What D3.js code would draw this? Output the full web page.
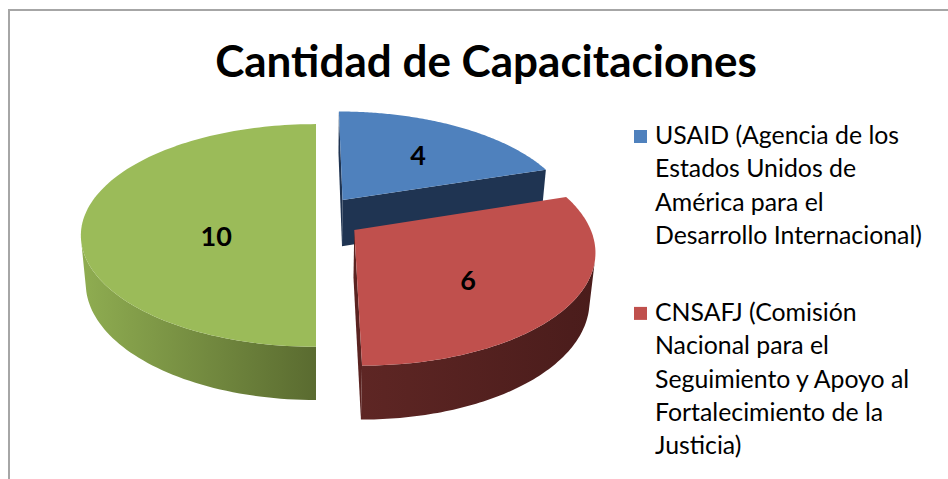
<!DOCTYPE html>
<html><head><meta charset="utf-8">
<script src="https://cdn.jsdelivr.net/npm/d3@7"></script>
<style>body{margin:0;background:#fff}</style>
</head><body><svg id="chart" width="948" height="479"></svg>
<script>
// ---- data ----
const title = "Cantidad de Capacitaciones";
const categories = ["USAID", "CNSAFJ", "Otra"];
const values = [4, 6, 10];
const colors = ["#4F81BD", "#C0504D", "#9BBB59"];
const sideColors = [["#26405f", "#1f3350"], ["#5e2624", "#4a1c1b"], ["#8fad51", "#5a6b30"]];
const cutColors = ["#1f3452", "#5a2321", "#6b8139"];
const explode = [0.2, 0.2, 0];
// legend (third entry is cut off in the reference)
const legendLabels = [
  ["USAID (Agencia de los", "Estados Unidos de", "América para el", "Desarrollo Internacional)"],
  ["CNSAFJ (Comisión", "Nacional para el", "Seguimiento y Apoyo al", "Fortalecimiento de la", "Justicia)"]
];

const svg = d3.select("#chart");
// border
svg.append("path").attr("d", "M9,479V10H948").attr("fill", "none")
  .attr("stroke", "#a6a6a6").attr("stroke-width", 2);

// title
const t = svg.append("text").attr("x", 486).attr("y", 77).attr("text-anchor", "middle")
  .attr("font-family", "Lato, 'Open Sans', sans-serif").attr("font-weight", "bold")
  .attr("font-size", 48).attr("fill", "#000").text(title);
const tw = t.node().getComputedTextLength();
t.attr("font-size", 48 * 542 / tw);

// ---- 3D projection ----
const P = {cx: 316, cy: 217, f: 1236, D: 5.33, s: 0.467, c: 0.884, h: 0.235};
const cam = {X: 0, Z: -P.D * P.c};
function proj(X, Y, Z) {
  const depth = P.D + Z * P.c - Y * P.s;
  const v = Y * P.c + Z * P.s;
  return [P.cx + P.f * X / depth, P.cy - P.f * v / depth];
}

const arcs = d3.pie().sort(null).value(d => d)(values);
const defs = svg.append("defs");
const slices = arcs.map((a, i) => {
  const mid = (a.startAngle + a.endAngle) / 2;
  const ox = explode[i] * Math.sin(mid), oz = explode[i] * Math.cos(mid);
  return {a, i, ox, oz};
});
slices.sort((p, q) => q.oz - p.oz);

const line = d3.line();
const N = 120;
slices.forEach(sl => {
  const {a, i, ox, oz} = sl;
  const a0 = a.startAngle, a1 = a.endAngle;
  const rim = (ang, Y) => proj(ox + Math.sin(ang), Y, oz + Math.cos(ang));
  const angs = d3.range(N + 1).map(k => a0 + (a1 - a0) * k / N);
  const g = svg.append("g");
  // side wall
  const vis = ang => (cam.X - ox - Math.sin(ang)) * Math.sin(ang) + (cam.Z - oz - Math.cos(ang)) * Math.cos(ang);
  const visA = angs.filter(ang => vis(ang) > 0);
  if (visA.length > 1) {
    const gid = "side" + i;
    const gr = defs.append("linearGradient").attr("id", gid).attr("x1", 0).attr("x2", 1).attr("y1", 0).attr("y2", 0);
    gr.append("stop").attr("offset", 0).attr("stop-color", sideColors[i][0]);
    gr.append("stop").attr("offset", 1).attr("stop-color", sideColors[i][1]);
    const pts = visA.map(ang => rim(ang, 0)).concat(visA.slice().reverse().map(ang => rim(ang, -P.h)));
    g.append("path").attr("d", line(pts) + "Z").attr("fill", `url(#${gid})`);
  }
  // radial cut faces
  const vtx = [ox, oz];
  const faces = [
    {ang: a0, n: [-Math.cos(a0), Math.sin(a0)]},
    {ang: a1, n: [Math.cos(a1), -Math.sin(a1)]}
  ];
  faces.forEach(fc => {
    const dot = (cam.X - vtx[0]) * fc.n[0] + (cam.Z - vtx[1]) * fc.n[1];
    if (dot > 1e-6) {
      const pts = [proj(ox, 0, oz), rim(fc.ang, 0), rim(fc.ang, -P.h), proj(ox, -P.h, oz)];
      g.append("path").attr("d", line(pts) + "Z").attr("fill", cutColors[i]);
    }
  });
  // top face
  const top = [proj(ox, 0, oz)].concat(angs.map(ang => rim(ang, 0)));
  g.append("path").attr("d", line(top) + "Z").attr("fill", colors[i]);
  sl.label = d3.polygonCentroid(top);
});

// data labels
slices.forEach(sl => {
  svg.append("text").attr("x", sl.label[0]).attr("y", sl.label[1])
    .attr("text-anchor", "middle").attr("dominant-baseline", "central")
    .attr("font-family", "Lato, 'Open Sans', sans-serif").attr("font-weight", "bold")
    .attr("font-size", 27).attr("fill", "#000").text(values[sl.i]);
});

// legend
const lg = svg.append("g").attr("font-family", "Lato, 'Open Sans', sans-serif").attr("fill", "#000");
let fs = 26.7;
const probe = lg.append("text").attr("font-size", fs).text(legendLabels[0][3]);
fs = fs * 267 / probe.node().getComputedTextLength();
probe.remove();
const lineH = 33.3, gap = 43.7;
let y = 144;
legendLabels.forEach((lines, k) => {
  lg.append("rect").attr("x", 634).attr("y", y - 14).attr("width", 13).attr("height", 13).attr("fill", colors[k]);
  lines.forEach((ln, j) => {
    lg.append("text").attr("x", 655).attr("y", y + j * lineH).attr("font-size", fs).text(ln);
  });
  y += lines.length * lineH + gap;
});
</script></body></html>
